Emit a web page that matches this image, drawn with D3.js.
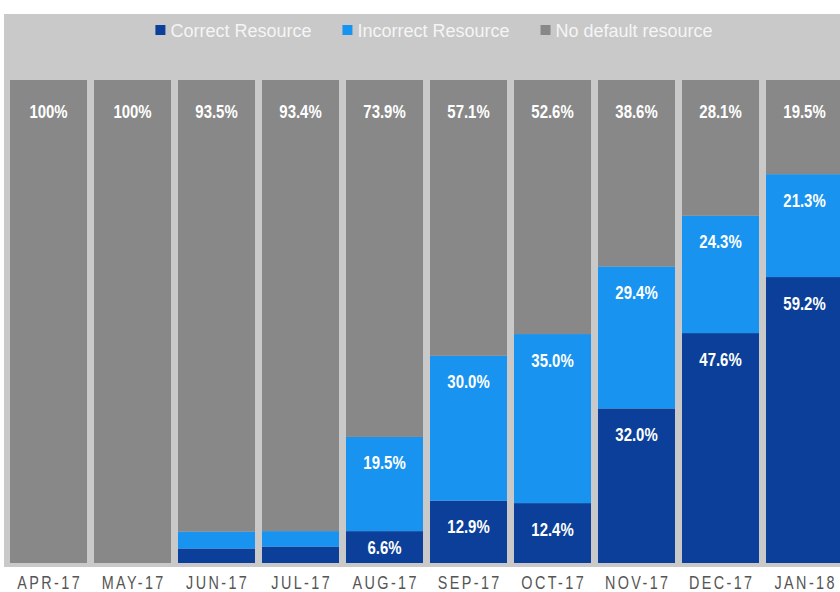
<!DOCTYPE html>
<html>
<head>
<meta charset="utf-8">
<script src="https://cdn.jsdelivr.net/npm/d3@7"></script>
<style>
    html, body { margin: 0; padding: 0; background: #fff; }
    svg { display: block; }
</style>
</head>
<body>
<div id="chart"></div>
<script>
const months = ['APR-17', 'MAY-17', 'JUN-17', 'JUL-17', 'AUG-17', 'SEP-17', 'OCT-17', 'NOV-17', 'DEC-17', 'JAN-18'];
const correct = [0, 0, 3.0, 3.4, 6.6, 12.9, 12.4, 32.0, 47.6, 59.2];
const incorrect = [0, 0, 3.5, 3.2, 19.5, 30.0, 35.0, 29.4, 24.3, 21.3];
const noDefault = [100, 100, 93.5, 93.4, 73.9, 57.1, 52.6, 38.6, 28.1, 19.5];

// which values get a printed label (small Jun/Jul slices carry none)
const labelled = [
    [false, false, false, false, true, true, true, true, true, true],
    [false, false, false, false, true, true, true, true, true, true],
    [true, true, true, true, true, true, true, true, true, true]
];

const seriesNames = ['Correct Resource', 'Incorrect Resource', 'No default resource'];
const colors = ['#0b3f99', '#1893f0', '#888888'];

const width = 840;
const height = 592;

const font = '"Liberation Sans", Arial, sans-serif';

const svg = d3.select('#chart').append('svg')
    .attr('width', width)
    .attr('height', height);

svg.append('rect')
    .attr('x', 4)
    .attr('y', 14)
    .attr('width', width - 4)
    .attr('height', 553)
    .attr('fill', '#c9c9c9');

const x = d3.scaleBand()
    .domain(months)
    .range([10, 843])
    .paddingInner(7 / 84)
    .paddingOuter(0);

const y = d3.scaleLinear().domain([0, 100]).range([563, 80]);

const rows = months.map((m, i) => ({ month: m, correct: correct[i], incorrect: incorrect[i], noDefault: noDefault[i] }));
const stacked = d3.stack().keys(['correct', 'incorrect', 'noDefault'])(rows);

const layers = svg.append('g').attr('class', 'bars')
    .selectAll('g')
    .data(stacked)
    .join('g')
    .attr('fill', (d, i) => colors[i]);

layers.selectAll('rect')
    .data(d => d)
    .join('rect')
    .attr('x', d => x(d.data.month))
    .attr('y', d => y(d[1]))
    .attr('width', x.bandwidth())
    .attr('height', d => y(d[0]) - y(d[1]));

// value labels sit near the top of each segment; squeezed to look condensed
const labels = svg.append('g').attr('class', 'labels');

const labelY = (d, si) => {
    const top = y(d[1]);
    const h = y(d[0]) - top;
    return top + Math.min(si === 2 ? 32 : 26, h / 2);
};

stacked.forEach((layer, si) => {
    labels.selectAll(`text.s${si}`)
        .data(layer.filter((d, i) => labelled[si][i]))
        .join('text')
        .attr('class', `s${si}`)
        .attr('transform', d => `translate(${x(d.data.month) + x.bandwidth() / 2},${labelY(d, si)}) scale(0.83,1)`)
        .attr('dy', '0.36em')
        .attr('text-anchor', 'middle')
        .attr('fill', '#fff')
        .style('font-family', font)
        .style('font-weight', 'bold')
        .style('font-size', '18px')
        .text(d => {
            const v = d[1] - d[0];
            return v === 100 ? '100%' : `${v.toFixed(1)}%`;
        });
});

// month labels
const axis = svg.append('g')
    .attr('transform', 'translate(0,589)')
    .call(d3.axisBottom(x).tickSize(0).tickPadding(0));

axis.select('.domain').remove();

axis.selectAll('text')
    .attr('dy', 0)
    .attr('x', 1.5)
    .attr('transform', 'scale(0.8,1)')
    .attr('fill', '#555')
    .style('font-family', font)
    .style('font-size', '18px')
    .style('letter-spacing', '3px');

// legend, centred above the bars
const legend = svg.append('g').attr('class', 'legend');

const items = legend.selectAll('g')
    .data(seriesNames)
    .join('g');

items.append('rect')
    .attr('y', 25)
    .attr('width', 10)
    .attr('height', 10)
    .attr('fill', (d, i) => colors[i]);

items.append('text')
    .attr('x', 15)
    .attr('y', 37)
    .attr('fill', '#f5f5f5')
    .style('font-family', font)
    .style('font-size', '18px')
    .text(d => d);

let cursor = 0;
const offsets = [];
items.each(function () {
    offsets.push(cursor);
    cursor += 15 + d3.select(this).select('text').node().getComputedTextLength() + 31;
});
const total = cursor - 31;
const start = 434 - total / 2;

items.attr('transform', (d, i) => `translate(${start + offsets[i]},0)`);
</script>
</body>
</html>
